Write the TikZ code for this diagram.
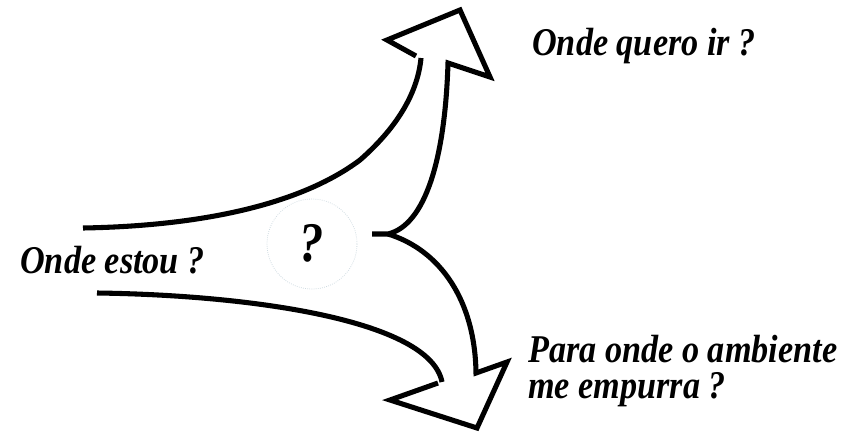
\documentclass[tikz,border=0pt]{standalone}
\usepackage{fontspec}
\setmainfont{Liberation Serif}
\newcommand{\tallask}[1]{\scalebox{0.87}[1]{#1}}
\begin{document}
\begin{tikzpicture}[x=0.75pt,y=-0.75pt,
  road/.style={line width=3.8pt, line join=miter, line cap=butt},
  asklabel/.style={font=\fontsize{29.5}{26.5}\selectfont\bfseries\itshape, anchor=base west, align=left, inner sep=0pt}]

\useasboundingbox (0,0) rectangle (862,432);

%--- points of the roads ---
\coordinate (upStart) at (83,228);
\coordinate (upBend) at (360,160);
\coordinate (upEnd) at (421,58);
\coordinate (lowStart) at (97,293);
\coordinate (lowEnd) at (442,382);
\coordinate (fork) at (388,234);
\coordinate (stub) at (372,234);

%--- upper road, into the top arrow
\draw[road] (upStart) .. controls (200,226) and (300,205) .. (upBend)
  .. controls (400,125) and (418,90) .. (upEnd);

% top arrow head, then its right side down to the fork
\draw[road] (416,56) -- (387,40) -- (460,10) -- (490,77) -- (448,63)
  .. controls (445,160) and (425,225) .. (fork) -- (stub);

%--- lower road, into the bottom arrow
\draw[road] (lowStart) .. controls (250,295) and (430,320) .. (lowEnd);

% bottom arrow head, then its right side up to the fork
\draw[road] (438,383) -- (390,400) -- (477,428) -- (507,362) -- (476,373)
  .. controls (475,300) and (440,250) .. (fork);

%--- the question in the middle
\draw[cyan!25!gray!35, line width=0.6pt, densely dotted] (312,244) circle (45);
\node[font=\fontsize{42}{42}\selectfont\bfseries\itshape, inner sep=0pt, anchor=base] (doubt) at (312,261) {\tallask{?}};

%--- labels
\node[asklabel] (here) at (20,273) {\tallask{Onde estou ?}};
\node[asklabel] (goal) at (532,55) {\tallask{Onde quero ir ?}};
\node[asklabel] (push) at (528,398) {\tallask{Para onde o ambiente}\\\tallask{me empurra ?}};

\end{tikzpicture}
\end{document}
